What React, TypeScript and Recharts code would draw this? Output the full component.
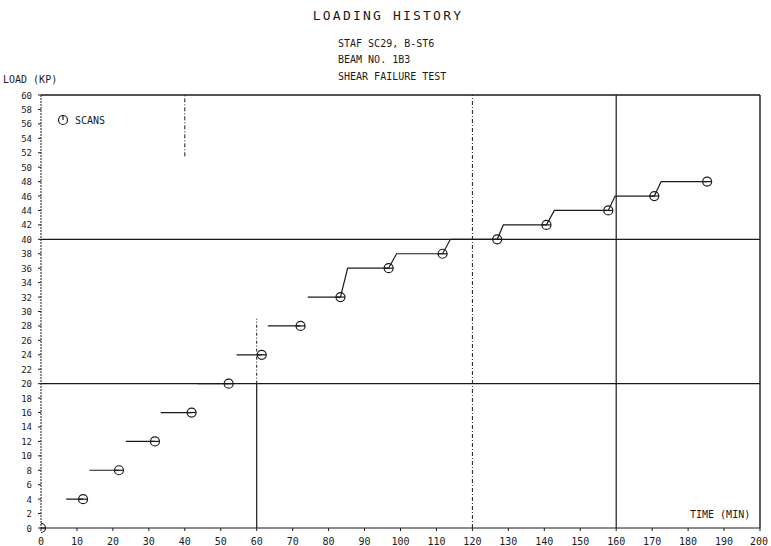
import {
  ComposedChart,
  Line,
  Scatter,
  XAxis,
  YAxis,
  ReferenceLine,
} from 'recharts';

// load levels (kips) held at each step
const loads = [4, 8, 12, 16, 20, 24, 28, 32, 36, 38, 40, 42, 44, 46, 48];
// time (min) each load level was reached
const stepStarts = [7, 13.5, 23.6, 33.3, 43.5, 54.4, 63.1, 74.2, 85.3, 98.9, 113.9, 128.6, 142.8, 159.7, 172.5];
// time (min) of the scan taken at the end of each step
const scanTimes = [11.7, 21.7, 31.7, 41.9, 52.2, 61.4, 72.2, 83.3, 96.7, 111.7, 126.9, 140.6, 157.8, 170.6, 185.3];
// steps from this index on are drawn joined to the previous one
const firstJoined = 8;

const xTicks = [0, 10, 20, 30, 40, 50, 60, 70, 80, 90, 100, 110, 120, 130, 140, 150, 160, 170, 180, 190, 200];
const yTicks = [0, 2, 4, 6, 8, 10, 12, 14, 16, 18, 20, 22, 24, 26, 28, 30, 32, 34, 36, 38, 40, 42, 44, 46, 48, 50, 52, 54, 56, 58, 60];

const INK = '#1a1a1a';
const FONT = '"DejaVu Sans Mono", monospace';

const stepPts: Array<{ t: number; load: number | null }> = [];
loads.forEach((load, i) => {
  if (i > 0 && i < firstJoined) stepPts.push({ t: stepStarts[i] - 0.1, load: null });
  stepPts.push({ t: stepStarts[i], load });
  stepPts.push({ t: scanTimes[i], load });
});

const scans = [{ t: 0, load: 0 }, ...scanTimes.map((t, i) => ({ t, load: loads[i] }))];

const ScanMark = (props: any) => {
  const { cx, cy } = props;
  if (cx == null || cy == null) return null;
  return (
    <g stroke={INK} strokeWidth={1.2} fill="none">
      <circle cx={cx} cy={cy} r={4.5} />
      <line x1={cx - 4.5} y1={cy} x2={cx + 4.5} y2={cy} />
    </g>
  );
};

const XTick = (props: any) => {
  const { x, y, payload } = props;
  return (
    <text x={x} y={y + 12} textAnchor="middle" fontFamily={FONT} fontSize={10} fill={INK}>
      {payload.value}
    </text>
  );
};

const YTick = (props: any) => {
  const { x, y, payload } = props;
  return (
    <text x={x - 4} y={y + 3.5} textAnchor="end" fontFamily={FONT} fontSize={9} fill={INK}>
      {payload.value}
    </text>
  );
};

export default function App() {
  return (
    <div style={{ position: 'absolute', left: 0, top: 0, width: 771, height: 546, background: '#fff' }}>
      <ComposedChart width={771} height={546} margin={{ top: 95, right: 11, bottom: 0, left: 0 }}>
        <XAxis
          type="number"
          dataKey="t"
          domain={[0, 200]}
          ticks={xTicks}
          tick={<XTick />}
          tickSize={3}
          height={18}
          axisLine={{ stroke: INK, strokeWidth: 1.2 }}
          tickLine={{ stroke: INK }}
          allowDataOverflow
        />
        <YAxis
          type="number"
          dataKey="load"
          domain={[0, 60]}
          ticks={yTicks}
          tick={<YTick />}
          tickSize={3}
          width={41}
          axisLine={{ stroke: INK, strokeWidth: 1, strokeDasharray: '2 1' }}
          tickLine={{ stroke: INK }}
          interval={0}
        />
        <ReferenceLine y={20} stroke={INK} strokeWidth={1.2} />
        <ReferenceLine y={40} stroke={INK} strokeWidth={1.2} />
        <ReferenceLine y={60} stroke={INK} strokeWidth={1.4} />
        <ReferenceLine x={200} stroke={INK} strokeWidth={1.4} />
        <ReferenceLine x={160} stroke={INK} strokeWidth={1.2} />
        <ReferenceLine x={120} stroke={INK} strokeWidth={1} strokeDasharray="4 2 1 2" />
        <ReferenceLine segment={[{ x: 60, y: 0 }, { x: 60, y: 20 }]} stroke={INK} strokeWidth={1.2} />
        <ReferenceLine segment={[{ x: 60, y: 20 }, { x: 60, y: 29 }]} stroke={INK} strokeWidth={1} strokeDasharray="3 2 1 2" />
        <ReferenceLine segment={[{ x: 40, y: 51.5 }, { x: 40, y: 60 }]} stroke={INK} strokeWidth={1} strokeDasharray="4 2 1 2" />
        <Line
          data={stepPts}
          dataKey="load"
          type="linear"
          stroke={INK}
          strokeWidth={1.2}
          dot={false}
          connectNulls={false}
          isAnimationActive={false}
        />
        <Scatter data={scans} dataKey="load" shape={<ScanMark />} isAnimationActive={false} />
      </ComposedChart>
      <svg
        width={771}
        height={546}
        style={{ position: 'absolute', left: 0, top: 0, pointerEvents: 'none' }}
        fontFamily={FONT}
        fill={INK}
      >
        <text x={388} y={20} textAnchor="middle" fontSize={13} letterSpacing={2.2}>
          LOADING HISTORY
        </text>
        <text x={338} y={47} fontSize={10}>STAF SC29, B-ST6</text>
        <text x={338} y={63} fontSize={10}>BEAM NO. 1B3</text>
        <text x={338} y={80} fontSize={10}>SHEAR FAILURE TEST</text>
        <text x={3} y={83} fontSize={10}>LOAD  (KP)</text>
        <g stroke={INK} strokeWidth={1.2} fill="none">
          <circle cx={63} cy={120} r={4.5} />
          <line x1={63} y1={115.5} x2={63} y2={120} />
        </g>
        <text x={75} y={124} fontSize={10}>SCANS</text>
        <text x={690} y={518} fontSize={10}>TIME  (MIN)</text>
      </svg>
    </div>
  );
}
